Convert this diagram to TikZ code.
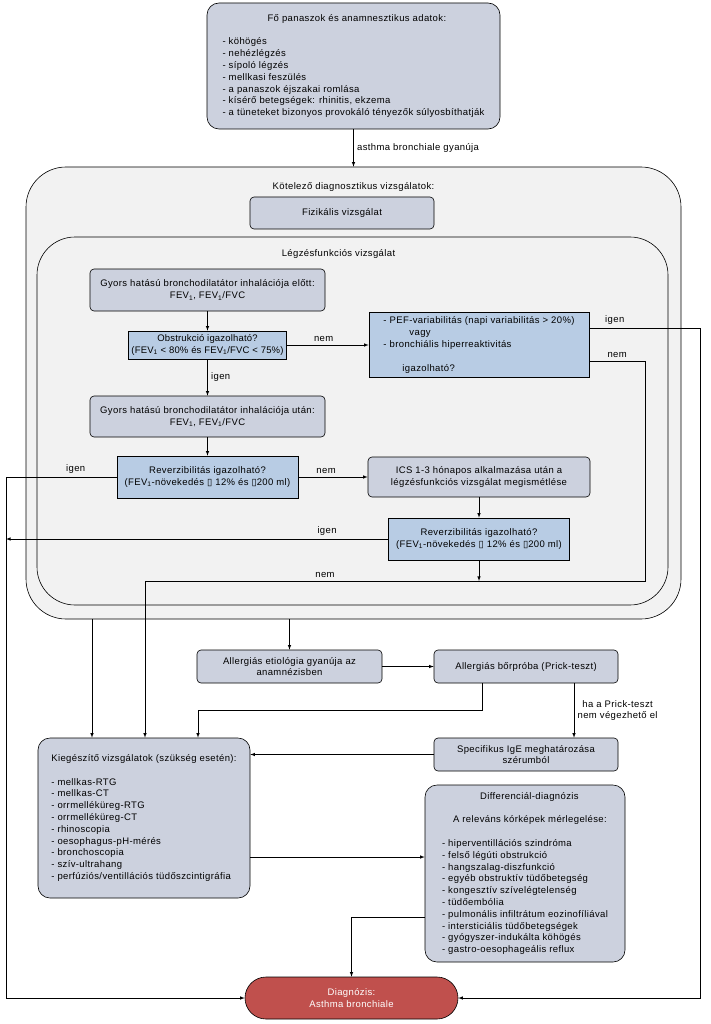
\documentclass[tikz,border=0pt]{standalone}
\usepackage{fontspec}
\setmainfont{Liberation Sans}[LetterSpace=4]
\newfontfamily\jelfont{DejaVu Sans}
\usetikzlibrary{positioning}

\definecolor{dobozszin}{HTML}{CCD1DE}
\definecolor{kerdesszin}{HTML}{B8CCE4}
\definecolor{keretszin}{HTML}{F2F2F2}
\definecolor{diagszin}{HTML}{C0504D}
\newcommand{\hianyzo}{{\jelfont\char"25AF}}

\begin{document}
\begin{tikzpicture}[x=1pt,y=-1pt,>=latex,line width=0.6pt]
\tikzset{
betu/.style      = {font=\fontsize{9.5}{11.8}\selectfont},
keret/.style     = {draw,fill=keretszin,rounded corners=40pt},
doboz/.style     = {draw,fill=dobozszin,rounded corners=4pt,betu,align=center},
lista/.style     = {draw,fill=dobozszin,rounded corners=12pt,betu,align=left},
kerdes/.style    = {draw,fill=kerdesszin,betu,align=center},
diagnozis/.style = {draw,fill=diagszin,rounded corners=21pt,text=white,betu,align=center},
felirat/.style   = {betu}
}
\path[use as bounding box,fill=white] (0,0) rectangle (711,1024);

\node[keret,minimum width=655pt,minimum height=452pt] (kotelezo) at (353.5,393) {};
\node[keret,rounded corners=38pt,minimum width=631pt,minimum height=368pt] (legzes) at (352.5,421) {};
\node[felirat,below=12pt of kotelezo.north] (kotcim) {Kötelező diagnosztikus vizsgálatok:};
\node[felirat,below=9pt of legzes.north,xshift=-14pt] (legzcim) {Légzésfunkciós vizsgálat};

\node[lista,minimum width=293pt,minimum height=126pt] (panasz) at (353.5,66)
  {\hspace*{45pt}Fő panaszok és anamnesztikus adatok:\\[11.8pt]
   - köhögés\\
   - nehézlégzés\\
   - sípoló légzés\\
   - mellkasi feszülés\\
   - a panaszok éjszakai romlása\\
   - kísérő betegségek: rhinitis, ekzema\\
   - a tüneteket bizonyos provokáló tényezők súlyosbíthatják};
\node[doboz,minimum width=184pt,minimum height=32pt] (fizikalis) at (342,213) {Fizikális vizsgálat};
\node[doboz,minimum width=235pt,minimum height=42pt] (elott) at (207.5,290)
  {Gyors hatású bronchodilatátor inhalációja előtt:\\FEV\textsubscript{1}, FEV\textsubscript{1}/FVC};
\node[kerdes,inner xsep=1pt,font=\fontsize{9.5}{11.8}\selectfont\addfontfeatures{LetterSpace=2},
      minimum width=158pt,minimum height=28pt] (obstr) at (207.5,345)
  {Obstrukció igazolható?\\(FEV\textsubscript{1} < 80\% és FEV\textsubscript{1}/FVC < 75\%)};
\node[kerdes,align=left,minimum width=220pt,minimum height=65pt] (pef) at (479,345)
  {- PEF-variabilitás (napi variabilitás > 20\%)\\
   \hspace*{26pt}vagy\\
   - bronchiális hiperreaktivitás\\[11.8pt]
   \hspace*{19pt}igazolható?};
\node[doboz,minimum width=235pt,minimum height=41pt] (utan) at (207.5,416.5)
  {Gyors hatású bronchodilatátor inhalációja után:\\FEV\textsubscript{1}, FEV\textsubscript{1}/FVC};
\node[kerdes,minimum width=181pt,minimum height=42pt] (rev1) at (207.5,477)
  {Reverzibilitás igazolható?\\(FEV\textsubscript{1}-növekedés \hianyzo{} 12\% és \hianyzo{}200 ml)};
\node[doboz,minimum width=222pt,minimum height=40pt] (ics) at (479,477)
  {ICS 1-3 hónapos alkalmazása után a\\légzésfunkciós vizsgálat megismétlése};
\node[kerdes,minimum width=181pt,minimum height=42pt] (rev2) at (479,539)
  {Reverzibilitás igazolható?\\(FEV\textsubscript{1}-növekedés \hianyzo{} 12\% és \hianyzo{}200 ml)};

\node[doboz,minimum width=185pt,minimum height=33pt] (etio) at (289.5,666.5)
  {Allergiás etiológia gyanúja az\\anamnézisben};
\node[doboz,minimum width=184pt,minimum height=33pt] (borproba) at (526,666.5)
  {Allergiás bőrpróba (Prick-teszt)};
\node[doboz,minimum width=184pt,minimum height=33pt] (spec) at (526,754.5)
  {Specifikus IgE meghatározása\\szérumból};
\node[lista,minimum width=212pt,minimum height=160pt] (kieg) at (144,818)
  {Kiegészítő vizsgálatok (szükség esetén):\\[11.8pt]
   - mellkas-RTG\\
   - mellkas-CT\\
   - orrmelléküreg-RTG\\
   - orrmelléküreg-CT\\
   - rhinoscopia\\
   - oesophagus-pH-mérés\\
   - bronchoscopia\\
   - szív-ultrahang\\
   - perfúziós/ventillációs tüdőszcintigráfia};
\node[lista,minimum width=200pt,minimum height=177pt] (diff) at (525,873.5)
  {\hspace*{38pt}Differenciál-diagnózis\\[11.8pt]
   \hspace*{11pt}A releváns kórképek mérlegelése:\\[11.8pt]
   - hiperventillációs szindróma\\
   - felső légúti obstrukció\\
   - hangszalag-diszfunkció\\
   - egyéb obstruktív tüdőbetegség\\
   - kongesztív szívelégtelenség\\
   - tüdőembólia\\
   - pulmonális infiltrátum eozinofíliával\\
   - intersticiális tüdőbetegségek\\
   - gyógyszer-indukálta köhögés\\
   - gastro-oesophageális reflux};
\node[diagnozis,minimum width=213pt,minimum height=42pt] (diag) at (351.5,998)
  {Diagnózis:\\Asthma bronchiale};

\coordinate (jobb1) at (700,328);
\coordinate (jobb2) at (645,361);
\coordinate (nemsor) at (145,581);
\coordinate (bal) at (6,0);
\coordinate (ki1) at (92,0);
\coordinate (ki3) at (198,0);
\coordinate (bp1) at (482,710);
\coordinate (hapr) at (574,0);
\coordinate (kd) at (0,857);
\coordinate (dd) at (0,917);

\draw[->] (panasz.south) -- node[felirat,right] {asthma bronchiale gyanúja} (kotelezo.north);
\draw[->] (elott) -- (obstr);
\draw[->] (obstr) -- node[felirat,above,pos=0.45] {nem} (pef);
\draw[->] (obstr) -- node[felirat,right] {igen} (utan);
\draw[->] (utan) -- (rev1);
\draw[->] (rev1) -- node[felirat,above,pos=0.4] {nem} (ics);
\draw[->] (ics) -- (rev2);
\draw[->] (rev1.west) -- node[felirat,above,pos=0.37] {igen} (rev1.west -| bal) |- (diag.west);
\draw[->] (rev2.west) -- node[felirat,above,pos=0.16] {igen} (rev2.west -| bal);
\draw[->] (rev2.south) -- (rev2.south |- nemsor);
\draw[->] (pef.east |- jobb1) -- node[felirat,above,pos=0.23] {igen} (jobb1) |- (diag.east);
\draw[->] (pef.east |- jobb2) -- node[felirat,above] {nem} (jobb2)
  |- node[felirat,above,pos=0.82] {nem} (nemsor) -- (nemsor |- kieg.north);

\draw[->] (kotelezo.south -| ki1) -- (kieg.north -| ki1);
\draw[->] (kotelezo.south -| etio) -- (etio);
\draw[->] (etio) -- (borproba);
\draw[->] (borproba.south -| bp1) -- (bp1) -| (kieg.north -| ki3);
\draw[->] (borproba.south -| hapr) -- node[felirat,right,align=center] {ha a Prick-teszt\\nem végezhető el} (spec.north -| hapr);
\draw[->] (spec) -- (spec -| kieg.east);
\draw[->] (kieg.east |- kd) -- (diff.west |- kd);
\draw[->] (diff.west |- dd) -| (diag.north);
\end{tikzpicture}
\end{document}
